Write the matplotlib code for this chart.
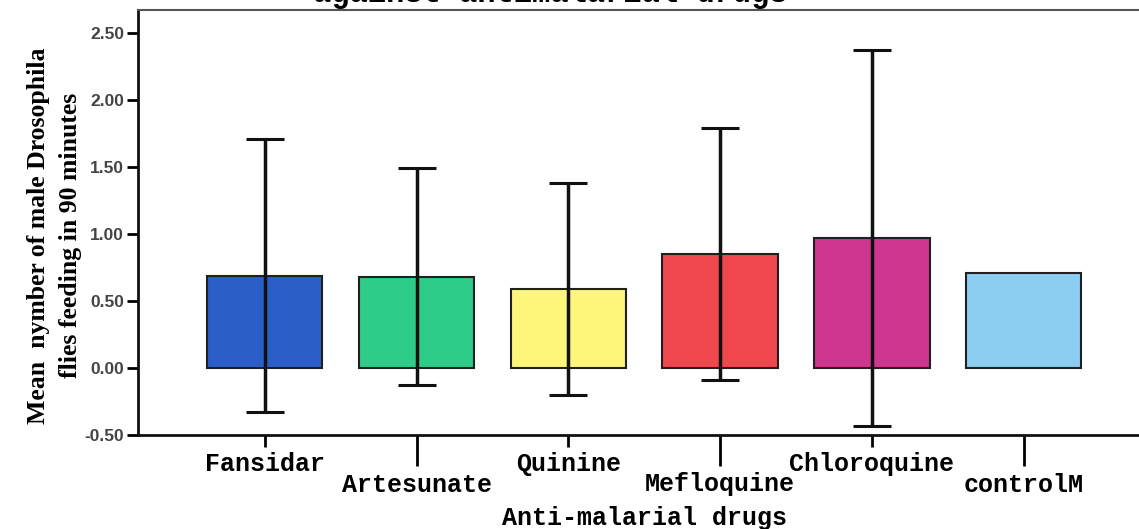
import matplotlib
matplotlib.use("Agg")
import matplotlib.pyplot as plt
import numpy as np

# data
drugs = ["Fansidar", "Artesunate", "Quinine", "Mefloquine", "Chloroquine", "controlM"]
means = [0.69, 0.68, 0.59, 0.85, 0.97, 0.71]
errs = [1.02, 0.81, 0.79, 0.94, 1.40, None]
colors = ["#2a5fc8", "#2dcc88", "#fdf67a", "#f0474f", "#cf3690", "#8ccdf2"]
yticks = [-0.5, 0.0, 0.5, 1.0, 1.5, 2.0, 2.5]

mono = "Liberation Mono"
serif = "Liberation Serif"

fig = plt.figure(figsize=(11.39, 5.29), dpi=100)
ax = fig.add_axes([138 / 1139, 1 - 435 / 529, 1 - 138 / 1139, 425 / 529])

x = np.arange(len(drugs))
ax.bar(x, means, width=0.76, color=colors, edgecolor="#202020", linewidth=1.5, zorder=2)

ex = [i for i, e in enumerate(errs) if e is not None]
ax.errorbar(x[ex], [means[i] for i in ex], yerr=[errs[i] for i in ex],
            fmt="none", ecolor="#111111", elinewidth=2.5, capsize=14, capthick=2.2, zorder=3)

ax.set_xlim(-0.835, 5.76)
ax.set_ylim(-0.5, 2.672)

# y axis
ax.set_yticks(yticks)
ax.set_yticklabels([f"{v:.2f}" for v in yticks], fontfamily="Liberation Sans", fontsize=12.5,
                   fontweight="bold", color="#444444")
ax.tick_params(axis="y", direction="out", length=8, width=2, pad=2)

# x axis: two staggered rows of labels
ax.set_xticks(x[0::2])
ax.set_xticklabels(drugs[0::2], fontfamily=mono, fontsize=18, fontweight="bold")
ax.set_xticks(x[1::2], minor=True)
ax.set_xticklabels(drugs[1::2], minor=True, fontfamily=mono, fontsize=18, fontweight="bold")
ax.tick_params(axis="x", which="major", direction="out", length=8.5, width=2, pad=4)
ax.tick_params(axis="x", which="minor", direction="out", length=22, width=2, pad=5)

ax.set_xlabel("Anti-malarial drugs", fontfamily=mono, fontsize=18, fontweight="bold")
ax.xaxis.set_label_coords(507 / 1001, -0.168)

ax.set_ylabel("Mean  nymber of male Drosophila\nflies feeding in 90 minutes",
              fontfamily=serif, fontsize=18.5, fontweight="bold", linespacing=1.5)
ax.yaxis.set_label_coords(-0.056, 0.47)

for side in ["left", "bottom"]:
    ax.spines[side].set_linewidth(2)
    ax.spines[side].set_color("#111111")
ax.spines["top"].set_linewidth(1.5)
ax.spines["top"].set_color("#555555")
ax.spines["right"].set_visible(False)

# title cut off by the top edge in the original
fig.text(550 / 1139, 1 - 2 / 529, "against antimalarial drugs", fontfamily=mono,
         fontsize=22, fontweight="bold", ha="center", va="baseline")

fig.savefig("out.png", dpi=100)
